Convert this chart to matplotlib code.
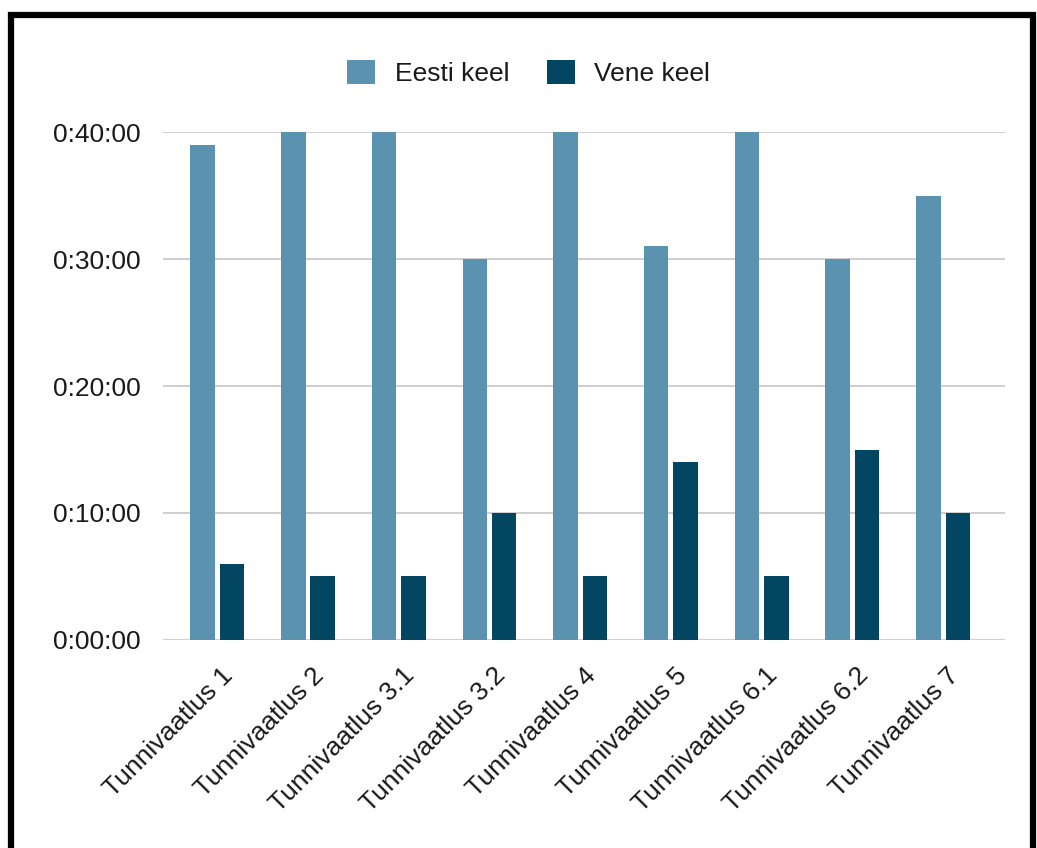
import numpy as np
import matplotlib
matplotlib.use("Agg")
import matplotlib.pyplot as plt
import matplotlib.transforms as mtransforms
from matplotlib.patches import Rectangle
from matplotlib.ticker import FuncFormatter

plt.rcParams['font.family'] = ['Liberation Sans', 'DejaVu Sans']

# andmed minutites
tunnid = ["Tunnivaatlus 1", "Tunnivaatlus 2", "Tunnivaatlus 3.1", "Tunnivaatlus 3.2",
          "Tunnivaatlus 4", "Tunnivaatlus 5", "Tunnivaatlus 6.1", "Tunnivaatlus 6.2",
          "Tunnivaatlus 7"]
eesti = [39, 40, 40, 30, 40, 31, 40, 30, 35]
vene = [6, 5, 5, 10, 5, 14, 5, 15, 10]

c_eesti = "#5a92b0"
c_vene = "#034662"
fs = 19

fig = plt.figure(figsize=(10.37, 8.48), dpi=100)
ax = fig.add_axes([0.157, 0.2453, 0.812, 0.599])

x = np.arange(len(tunnid))
w = 0.27
ax.bar(x - 0.162, eesti, w, color=c_eesti, label="Eesti keel", zorder=3)
ax.bar(x + 0.162, vene, w, color=c_vene, label="Vene keel", zorder=3)

ax.set_xlim(-0.6, 8.68)
ax.set_ylim(0, 40)
ax.set_yticks([0, 10, 20, 30, 40])
ax.yaxis.set_major_formatter(FuncFormatter(lambda v, p: "0:%02d:00" % int(v)))
ax.grid(axis="y", color="#cccccc", linewidth=1.3, zorder=0)
ax.set_axisbelow(True)
for s in ax.spines.values():
    s.set_visible(False)
ax.tick_params(length=0, labelsize=fs, colors="#1a1a1a", pad=20)
ax.tick_params(axis="y", pad=16)

ax.set_xticks(x)
ax.set_xticklabels(tunnid, rotation=45, ha="right", rotation_mode="anchor")
off = mtransforms.ScaledTranslation(12 / 100, -4 / 100, fig.dpi_scale_trans)
for t in ax.get_xticklabels():
    t.set_va("center")
    t.set_transform(t.get_transform() + off)

leg = fig.legend(loc="center", bbox_to_anchor=(0.51, 0.914), ncol=2, frameon=False,
                 fontsize=fs, handlelength=1.05, handleheight=1.05,
                 handletextpad=0.74, columnspacing=1.44)
for t in leg.get_texts():
    t.set_color("#1a1a1a")

# must raam ümber pildi
fig.patches.append(Rectangle((0.0106, -0.05), 0.9855, 1.0323, transform=fig.transFigure,
                             fill=False, edgecolor="black", linewidth=4.5))

fig.savefig("out.png", dpi=100)
